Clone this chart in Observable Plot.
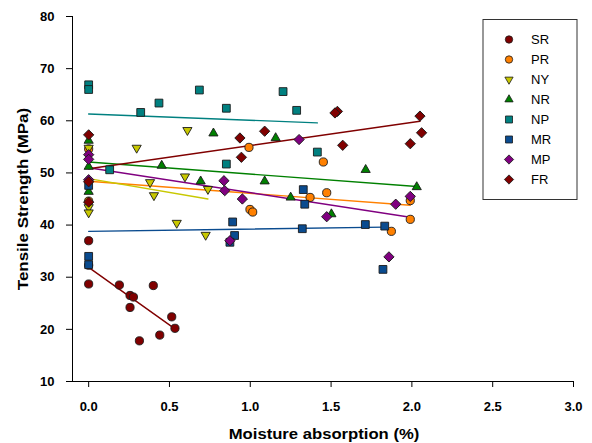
<!DOCTYPE html>
<html><head><meta charset="utf-8">
<script src="https://cdn.jsdelivr.net/npm/d3@7"></script>
<script src="https://cdn.jsdelivr.net/npm/@observablehq/plot@0.6"></script>
<style>
body{margin:0;background:#fff;}
#wrap{position:relative;width:592px;height:443px;font-family:"Liberation Sans",Arial,sans-serif;}
#wrap svg{position:absolute;left:0;top:0;}
.title{position:absolute;font-weight:bold;font-size:15px;color:#000;white-space:nowrap;}
</style></head><body><div id="wrap"></div>
<script>
const seriesNames = ["SR","PR","NY","NR","NP","MR","MP","FR"];
const seriesColors = ["#800000","#ff8000","#c8c800","#008000","#008080","#0a4b8f","#800080","#800000"];
const seriesSymbols = ["circle","circle","triangle","triangle","square","square","square","square"];
const seriesRotate = [0,0,180,0,0,0,45,45];
const seriesR = [4.1,4.1,3.4,3.4,4.4,4.4,4.1,4.1];

const srX = [0,0,0,0.19,0.256,0.277,0.256,0.40,0.314,0.44,0.514,0.534];
const srY = [37.0,32.3,28.7,28.5,26.5,26.2,24.2,28.4,17.8,18.9,22.4,20.2];
const prX = [0,0,0.992,1.452,1.473,1.37,0.998,1.015,1.873,1.99,1.99];
const prY = [54.6,44.6,54.9,52.1,46.2,45.3,43.0,42.5,38.8,44.7,41.1];
const nyX = [0,0,0,0.297,0.611,0.38,0.596,0.404,0.738,0.545,0.724];
const nyY = [54.8,43.4,42.4,54.8,58.2,48.2,49.3,45.7,46.9,40.4,38.1];
const nrX = [0,0,0,0.772,0.452,0.693,1.157,1.089,1.714,2.03,1.25,1.502];
const nrY = [56.2,51.2,46.4,57.6,51.4,48.4,56.7,48.4,50.6,47.3,45.3,42.1];
const npX = [0,0,0.322,0.435,0.685,0.852,0.13,0.852,1.203,1.287,1.415];
const npY = [66.9,66.0,61.6,63.4,65.9,62.4,50.6,51.7,65.6,62.0,54.0];
const mrX = [0,0,0,0.891,0.903,0.874,1.328,1.337,1.322,1.712,1.832,1.821];
const mrY = [47.6,34.0,32.4,40.6,38.0,36.7,46.8,44.0,39.3,40.1,39.8,31.5];
const mpX = [0,0,0,0.837,0.842,0.951,1.302,1.99,1.473,1.90,1.858,0.874];
const mpY = [53.5,52.6,48.7,48.5,46.6,45.0,56.4,45.5,41.6,44.0,33.9,37.0];
const frX = [0,0,0,0.936,0.945,1.089,1.539,1.524,1.572,2.05,2.06,1.99];
const frY = [57.3,48.3,44.4,56.7,53.0,58.0,61.8,61.5,55.3,60.9,57.7,55.6];

const fitX0 = [0,0,0,0,0,0,0,0];
const fitY0 = [31.9,48.4,48.9,52.1,61.3,38.8,51.0,50.8];
const fitX1 = [0.534,1.99,0.738,2.03,1.415,1.83,1.99,2.05];
const fitY1 = [20.1,43.8,45.0,47.4,59.6,39.6,41.5,59.9];

const xTicks = [0,0.5,1,1.5,2,2.5,3];
const yTicks = [10,20,30,40,50,60,70,80];
const xTitle = "Moisture absorption (%)";
const yTitle = "Tensile Strength (MPa)";

const seriesX = [srX,prX,nyX,nrX,npX,mrX,mpX,frX];
const seriesY = [srY,prY,nyY,nrY,npY,mrY,mpY,frY];

const marks = [];
marks.push(Plot.ruleX([-0.1], {stroke:"#000", strokeWidth:1}));
marks.push(Plot.ruleY([10], {stroke:"#000", strokeWidth:1}));
seriesNames.forEach((name,i)=>{
  marks.push(Plot.line([{x:fitX0[i],y:fitY0[i]},{x:fitX1[i],y:fitY1[i]}],
    {x:"x",y:"y",stroke:seriesColors[i],strokeWidth:1.4}));
});
seriesNames.forEach((name,i)=>{
  const pts = seriesX[i].map((x,j)=>({x, y: seriesY[i][j]}));
  marks.push(Plot.dot(pts, {x:"x",y:"y",symbol:seriesSymbols[i],rotate:seriesRotate[i],r:seriesR[i],
    fill:seriesColors[i],stroke:"#1a1a1a",strokeWidth:0.9}));
});
marks.push(Plot.axisX({ticks:xTicks, tickFormat:d3.format(".1f"), tickSize:6, tickPadding:14, label:null}));
marks.push(Plot.axisY({ticks:yTicks, tickSize:6, tickPadding:12, label:null}));

const chart = Plot.plot({
  width:592, height:443,
  marginLeft:72, marginRight:19, marginTop:16, marginBottom:62,
  x:{domain:[-0.1,3.0]},
  y:{domain:[10,80]},
  style:{fontFamily:"'Liberation Sans', Arial, sans-serif", fontSize:"13px", fontWeight:"bold", color:"#000", background:"#fff"},
  marks
});
const wrap = document.getElementById("wrap");
wrap.appendChild(chart);

// legend overlay
const lg = d3.select(wrap).append("svg").attr("width",592).attr("height",443)
  .style("pointer-events","none");
lg.append("rect").attr("x",483).attr("y",19.5).attr("width",94).attr("height",180)
  .attr("fill","#fff").attr("stroke","#333").attr("stroke-width",1);
const symMap = {circle:d3.symbolCircle, triangle:d3.symbolTriangle, square:d3.symbolSquare};
seriesNames.forEach((name,i)=>{
  const cy = 39.5 + 20*i;
  const r = seriesR[i]*0.9;
  lg.append("path").attr("d", d3.symbol(symMap[seriesSymbols[i]], Math.PI*r*r)())
    .attr("transform",`translate(509,${cy}) rotate(${seriesRotate[i]})`)
    .attr("fill",seriesColors[i]).attr("stroke","#1a1a1a").attr("stroke-width",0.8);
  lg.append("text").attr("x",531).attr("y",cy).attr("dy","0.36em")
    .attr("font-family","'Liberation Sans', Arial, sans-serif").attr("font-size",13)
    .attr("fill","#000").text(name);
});

const xt = document.createElement("div");
xt.className="title"; xt.textContent = xTitle;
xt.style.left="324px"; xt.style.top="433px"; xt.style.transform="translate(-50%,-50%) scaleX(1.11)";
wrap.appendChild(xt);
const yt = document.createElement("div");
yt.className="title"; yt.textContent = yTitle;
yt.style.left="22px"; yt.style.top="199px"; yt.style.transform="translate(-50%,-50%) rotate(-90deg) scaleX(1.13)";
wrap.appendChild(yt);
</script></body></html>
